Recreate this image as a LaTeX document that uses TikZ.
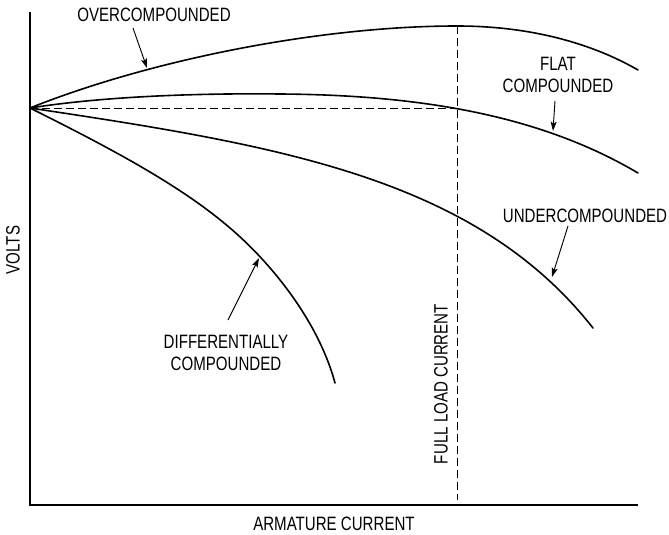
\documentclass[tikz,border=0pt]{standalone}
\usepackage{fontspec}
\newfontfamily\lblfont{Liberation Sans}[FakeStretch=0.78]
\usetikzlibrary{arrows.meta}

\begin{document}
\begin{tikzpicture}[x=0.75pt, y=-0.75pt,
    curve/.style={line width=1.2pt, line cap=round},
    axis/.style={line width=0.9pt},
    guide/.style={line width=0.7pt, dash pattern=on 6pt off 3pt},
    pointer/.style={line width=0.7pt, -{Stealth[length=7pt, width=4.5pt, inset=1.5pt]}},
    lbl/.style={font=\lblfont\fontsize{14.5}{17}\selectfont, align=center, inner sep=0pt}]

    % Fix the page to the reference size
    \useasboundingbox (0,0) rectangle (669,535);

    % Axes
    \coordinate (top) at (30,12);
    \coordinate (orig) at (30,505);
    \coordinate (right) at (638,505);
    \draw[axis] (top) -- (orig) -- (right);

    % No-load point and full-load guide lines
    \coordinate (noload) at (30,108);
    \coordinate (fullload) at (457,108);
    \draw[guide] (noload) -- (fullload);
    \draw[guide] (457,26) -- (457,500);

    % Characteristic curves
    \draw[curve] (noload) .. controls (150,60) and (320,26) .. (457,26)
                          .. controls (540,26) and (600,48) .. (638,70);
    \draw[curve] (noload) .. controls (100,97) and (190,93) .. (280,94)
                          .. controls (420,95) and (540,115) .. (638,173);
    \draw[curve] (noload) .. controls (280,145.5) and (475,178) .. (593,328);
    \draw[curve] (noload) .. controls (110,148) and (180,185) .. (230,228)
                          .. controls (270,262) and (318,320) .. (335,383);

    % Curve labels
    \node[lbl] (overlbl) at (154,15) {OVERCOMPOUNDED};
    \node[lbl] (flatlbl) at (558,75) {FLAT\\COMPOUNDED};
    \node[lbl] (underlbl) at (585,216) {UNDERCOMPOUNDED};
    \node[lbl] (difflbl) at (226,353) {DIFFERENTIALLY\\COMPOUNDED};

    % Axis labels
    \node[lbl, rotate=90] (voltslbl) at (13,250) {VOLTS};
    \node[lbl] (currlbl) at (334,524) {ARMATURE CURRENT};
    \node[lbl, rotate=90] (fulllbl) at (441,384) {FULL LOAD CURRENT};

    % Pointers from labels to curves
    \coordinate (overtail) at (133,28);
    \coordinate (overtip) at (147,68);
    \coordinate (flattail) at (555,101);
    \coordinate (flattip) at (553,131);
    \coordinate (undertail) at (568,226);
    \coordinate (undertip) at (552,277);
    \coordinate (difftail) at (228,320);
    \coordinate (difftip) at (259,258);
    \draw[pointer] (overtail) -- (overtip);
    \draw[pointer] (flattail) -- (flattip);
    \draw[pointer] (undertail) -- (undertip);
    \draw[pointer] (difftail) -- (difftip);

\end{tikzpicture}
\end{document}
